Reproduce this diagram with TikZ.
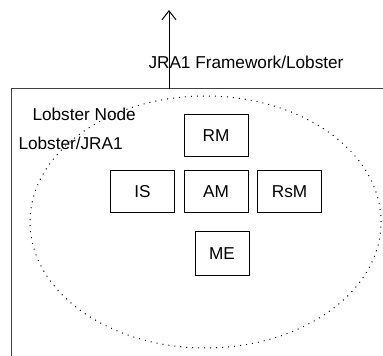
\documentclass[tikz,border=0pt]{standalone}
\usepackage{fontspec}
\setmainfont{Liberation Sans}
\usepackage{tikz}
\usetikzlibrary{arrows.meta}
\usetikzlibrary{shapes.geometric}

\begin{document}
\begin{tikzpicture}[x=0.5pt, y=-0.5pt, line width=0.5pt,
    font=\fontsize{8.6}{10}\selectfont,
    comp/.style={draw, rectangle, minimum width=32pt, minimum height=21pt, inner sep=0pt},
    lbl/.style={anchor=west, inner sep=0pt}]
            % Fix the size of the picture
            \useasboundingbox (0,0) rectangle (383,356);
            % Framework border
            \draw[black!75] (11,356) -- (11,89) -- (383,89);
            % Lobster node area
            \node[ellipse, draw, dash pattern=on 0.5pt off 2.5pt, inner sep=0pt,
                  minimum width=175.5pt, minimum height=126pt] (area) at (205.5,222) {};

            % Components
            \node[comp] (AM) at (216,192) {AM};
            \node[comp] (RM) at (216,136) {RM};
            \node[comp] (IS) at (142.5,192) {IS};
            \node[comp] (RsM) at (289.5,192) {RsM};
            \node[comp, minimum width=27pt, minimum height=22pt] (ME) at (222,253.5) {ME};

            % Labels
            \node[lbl] (fw) at (148,62) {JRA1 Framework/Lobster};
            \node[lbl] (name) at (32,114) {Lobster Node};
            \node[lbl] (path) at (18,143) {Lobster/JRA1};

            % Outgoing interface
            \coordinate (base) at (169,89);
            \coordinate (top) at (169,10);
            \draw[-{Straight Barb[length=4.5pt, width=7pt]}] (base) -- (top);
        \end{tikzpicture}
\end{document}
